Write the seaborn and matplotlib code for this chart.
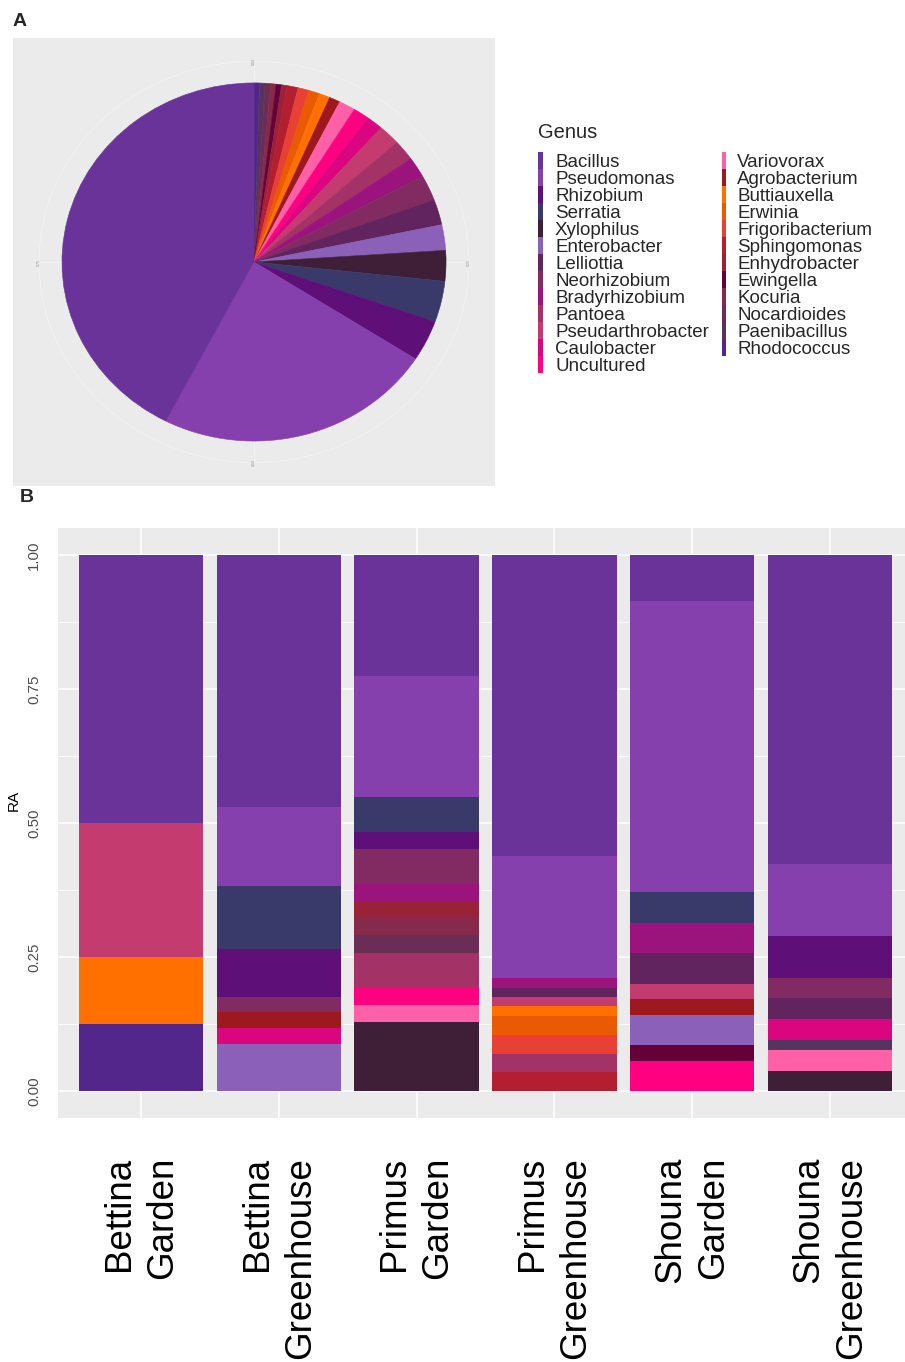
import matplotlib
matplotlib.use("Agg")
import matplotlib.pyplot as plt
import seaborn as sns
from matplotlib.patches import Ellipse, Rectangle

# Genus levels and their fill colours
genera = ["Bacillus", "Pseudomonas", "Rhizobium", "Serratia", "Xylophilus",
          "Enterobacter", "Lelliottia", "Neorhizobium", "Bradyrhizobium",
          "Pantoea", "Pseudarthrobacter", "Caulobacter", "Uncultured",
          "Variovorax", "Agrobacterium", "Buttiauxella", "Erwinia",
          "Frigoribacterium", "Sphingomonas", "Enhydrobacter", "Ewingella",
          "Kocuria", "Nocardioides", "Paenibacillus", "Rhodococcus"]
genus_colors = ["#6A3399", "#8540AD", "#5E1078", "#3A3A6A", "#3F1F37",
                "#8B60B8", "#62245E", "#822B62", "#9B137C", "#A33366",
                "#C43B70", "#DA0680", "#FF0080", "#FF60A8", "#9E1820",
                "#FF7000", "#EA5A00", "#E84035", "#B31E30", "#9A2238",
                "#650038", "#852A4A", "#6B2D55", "#553560", "#52268A"]
palette = dict(zip(genera, genus_colors))

# Isolate counts per sample, listed from the top of each bar downwards
samples = ["Bettina\nGarden", "Bettina\nGreenhouse", "Primus\nGarden",
           "Primus\nGreenhouse", "Shouna\nGarden", "Shouna\nGreenhouse"]
bettina_garden = [("Bacillus", 4), ("Pseudarthrobacter", 2),
                  ("Buttiauxella", 1), ("Rhodococcus", 1)]
bettina_greenhouse = [("Bacillus", 16), ("Pseudomonas", 5), ("Serratia", 4),
                      ("Rhizobium", 3), ("Neorhizobium", 1),
                      ("Agrobacterium", 1), ("Caulobacter", 1),
                      ("Enterobacter", 3)]
primus_garden = [("Bacillus", 7), ("Pseudomonas", 7), ("Serratia", 2),
                 ("Rhizobium", 1), ("Neorhizobium", 2), ("Bradyrhizobium", 1),
                 ("Enhydrobacter", 1), ("Kocuria", 1), ("Nocardioides", 1),
                 ("Pantoea", 2), ("Uncultured", 1), ("Variovorax", 1),
                 ("Xylophilus", 4)]
primus_greenhouse = [("Bacillus", 32), ("Pseudomonas", 13),
                     ("Bradyrhizobium", 1), ("Lelliottia", 1),
                     ("Pseudarthrobacter", 1), ("Buttiauxella", 1),
                     ("Erwinia", 2), ("Frigoribacterium", 2), ("Pantoea", 2),
                     ("Sphingomonas", 2)]
shouna_garden = [("Bacillus", 3), ("Pseudomonas", 19), ("Serratia", 2),
                 ("Bradyrhizobium", 2), ("Lelliottia", 2),
                 ("Pseudarthrobacter", 1), ("Agrobacterium", 1),
                 ("Enterobacter", 2), ("Ewingella", 1), ("Uncultured", 2)]
shouna_greenhouse = [("Bacillus", 30), ("Pseudomonas", 7), ("Rhizobium", 4),
                     ("Neorhizobium", 2), ("Lelliottia", 2),
                     ("Caulobacter", 2), ("Paenibacillus", 1),
                     ("Variovorax", 2), ("Xylophilus", 2)]
compositions = [bettina_garden, bettina_greenhouse, primus_garden,
                primus_greenhouse, shouna_garden, shouna_greenhouse]

ra_ticks = [0.0, 0.25, 0.5, 0.75, 1.0]
ra_labels = ["0.00", "0.25", "0.50", "0.75", "1.00"]
polar_labels = ["0.00", "0.25", "0.50", "0.75"]

sns.set_theme(style="darkgrid",
              rc={"axes.facecolor": "#EBEBEB", "grid.color": "white",
                  "figure.facecolor": "white"})
plt.rcParams["font.family"] = ["Liberation Sans", "DejaVu Sans"]

W, H = 905, 1362
fig = plt.figure(figsize=(W / 100, H / 100), dpi=100)


def rect(x0, y0, x1, y1):
    return [x0 / W, 1 - y1 / H, (x1 - x0) / W, (y1 - y0) / H]


# ---- Panel A: pooled genus composition as a pie ----
totals = {g: 0 for g in genera}
for comp in compositions:
    for g, n in comp:
        totals[g] += n
pie_order = genera[::-1]
ax_p = fig.add_axes(rect(13, 38, 495, 486))
ax_p.set_facecolor("#EBEBEB")
wedges, _ = ax_p.pie([totals[g] for g in pie_order],
                     colors=[palette[g] for g in pie_order],
                     startangle=90, counterclock=False, radius=1.0,
                     frame=True, wedgeprops=dict(linewidth=0.4))
for w in wedges:
    w.set_edgecolor(w.get_facecolor())
    w.set_zorder(3)
ax_p.set_aspect("auto")
ax_p.set_xlim(-1.255, 1.255)
ax_p.set_ylim(-1.251, 1.251)
ax_p.grid(False)
ax_p.set_xticks([])
ax_p.set_yticks([])
for s in ax_p.spines.values():
    s.set_visible(False)
ax_p.add_patch(Ellipse((0, 0), 2.24, 2.24, fill=False, ec="#F7F7F7",
                       lw=0.35, zorder=1))
for (dx, dy), lab in zip([(0, 1), (1, 0), (0, -1), (-1, 0)], polar_labels):
    ax_p.plot([0, dx * 1.12], [0, dy * 1.12], color="#F7F7F7", lw=0.4,
              zorder=1)
    ax_p.text(dx * 1.12, dy * 1.12, lab, fontsize=2.5, color="#8F8F8F",
              rotation=90, ha="center", va="center", zorder=2)

# ---- Panel B: relative abundance per sample ----
ax_b = fig.add_axes(rect(58, 528, 913, 1118))
for i, comp in enumerate(compositions):
    total = sum(n for _, n in comp)
    top = 1.0
    for g, n in comp:
        h = n / total
        ax_b.bar(i, h, bottom=top - h, width=0.9, color=palette[g],
                 linewidth=0)
        top -= h
ax_b.set_xlim(-0.6, 5.6)
ax_b.set_ylim(-0.05, 1.05)
ax_b.set_yticks(ra_ticks)
ax_b.set_yticks([0.125, 0.375, 0.625, 0.875], minor=True)
ax_b.set_yticklabels(ra_labels, rotation=90, va="center", fontsize=10.8,
                     color="#4D4D4D")
ax_b.set_xticks(range(len(samples)))
ax_b.set_xticklabels(samples, rotation=90, fontsize=26.5, ha="center",
                     va="top", multialignment="right", linespacing=1.3,
                     color="black")
ax_b.grid(which="major", color="white", lw=1.1)
ax_b.grid(which="minor", axis="y", color="white", lw=0.55)
ax_b.tick_params(axis="both", which="major", length=4, width=0.8,
                 color="#333333", direction="out")
ax_b.tick_params(axis="both", which="minor", length=0)
ax_b.tick_params(axis="x", pad=24)
ax_b.tick_params(axis="y", pad=8)
for s in ax_b.spines.values():
    s.set_visible(False)
ax_b.set_ylabel("")
fig.text(14 / W, 1 - 800 / H, "RA", rotation=90, ha="center", va="center",
         fontsize=11, color="black")

# ---- Legend and panel letters ----
ax_o = fig.add_axes([0, 0, 1, 1])
ax_o.set_xlim(0, W)
ax_o.set_ylim(H, 0)
ax_o.axis("off")
ax_o.patch.set_alpha(0)
ax_o.text(538, 133, "Genus", fontsize=14.5, ha="left", va="center")
row_h = 16.98
for k, g in enumerate(genera):
    col, row = divmod(k, 13)
    kx = 538.3 if col == 0 else 721.7
    tx = 555 if col == 0 else 737
    y0 = 152.3 + row * row_h
    ax_o.add_patch(Rectangle((kx, y0), 4.4, row_h, color=palette[g], lw=0))
    ax_o.text(tx, y0 + row_h / 2, g, fontsize=13.5, ha="left",
              va="center_baseline")
ax_o.text(13, 22, "A", fontsize=14, fontweight="bold", ha="left",
          va="center")
ax_o.text(20, 498, "B", fontsize=14, fontweight="bold", ha="left",
          va="center")

fig.savefig("out.png", dpi=100)
